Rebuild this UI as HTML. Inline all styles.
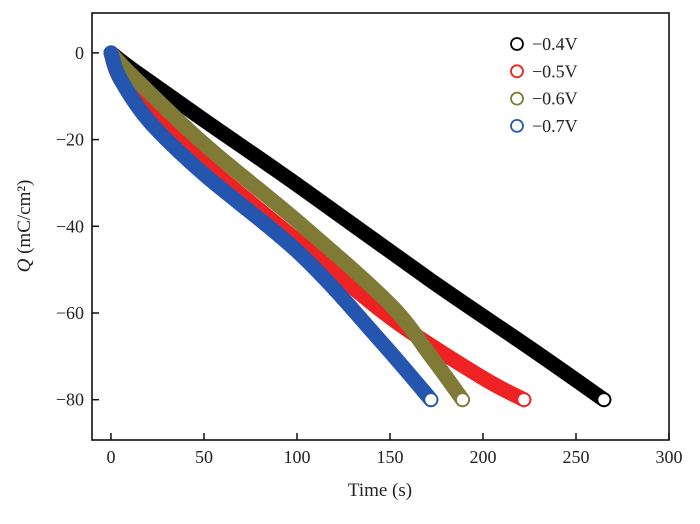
<!DOCTYPE html>
<html><head><meta charset="utf-8"><style>
html,body{margin:0;padding:0;background:#fff;}
svg text{font-family:"Liberation Serif",serif;fill:#222;}
</style></head><body>
<svg id="chart" width="700" height="519" viewBox="0 0 700 519"></svg>
<script>
const xTicks=[0,50,100,150,200,250,300];
const yTicks=[0,-20,-40,-60,-80];
const seriesNames=["−0.4V","−0.5V","−0.6V","−0.7V"];
const seriesColors=["#000000","#ee2222","#7f7a35","#2456b0"];
const t04=[0,12,50,102,172,225,265];
const q04=[0,-4,-15.5,-31,-52.5,-68,-80];
const t05=[0,5,21,50,102,150,198,222];
const q05=[0,-6,-14,-25.5,-44,-61,-74.5,-80];
const t06=[0,12,50,102,150,172,189];
const q06=[0,-5.5,-21,-39.5,-58,-70,-80];
const t07=[0,5,21,50,102,145,172];
const q07=[0,-6,-16,-28,-46.5,-66.5,-80];
const seriesT=[t04,t05,t06,t07];
const seriesQ=[q04,q05,q06,q07];

const NS="http://www.w3.org/2000/svg";
const svg=document.getElementById("chart");
const L=92,R=669,T=13,B=440;
const x0=-10.2,x1=300,y0=-89.3,y1=9.2;
const X=v=>L+(v-x0)/(x1-x0)*(R-L);
const Y=v=>B-(v-y0)/(y1-y0)*(B-T);
function mk(tag,attrs){const e=document.createElementNS(NS,tag);for(const k in attrs)e.setAttribute(k,attrs[k]);svg.appendChild(e);return e;}
function smooth(p){
  let d="M"+p[0][0].toFixed(1)+","+p[0][1].toFixed(1);
  for(let i=0;i<p.length-1;i++){
    const a=p[Math.max(i-1,0)],b=p[i],c=p[i+1],e=p[Math.min(i+2,p.length-1)];
    const c1=[b[0]+(c[0]-a[0])/6,b[1]+(c[1]-a[1])/6],c2=[c[0]-(e[0]-b[0])/6,c[1]-(e[1]-b[1])/6];
    d+=" C"+c1.map(v=>v.toFixed(1)).join(",")+" "+c2.map(v=>v.toFixed(1)).join(",")+" "+c.map(v=>v.toFixed(1)).join(",");
  }
  return d;
}
for(let s=0;s<4;s++){
  const pts=seriesT[s].map((t,i)=>[X(t),Y(seriesQ[s][i])]);
  const pl=mk("path",{d:smooth(pts),fill:"none",stroke:seriesColors[s],"stroke-width":15,"stroke-linecap":"round","stroke-linejoin":"round"});
  
  
}
for(let s=0;s<4;s++){
  const n=seriesT[s].length-1;
  const c=mk("circle",{cx:X(seriesT[s][n]),cy:Y(seriesQ[s][n]),r:6.5,fill:"#fff",stroke:seriesColors[s],"stroke-width":1.8});
  
  
}
const fr=mk("rect",{x:L,y:T,width:R-L,height:B-T,fill:"none",stroke:"#111","stroke-width":1.6});


xTicks.forEach(v=>{
  const l=mk("line",{x1:X(v),x2:X(v),y1:B,y2:B-7,stroke:"#111","stroke-width":1.5});
  
  
  const t=mk("text",{x:X(v),y:B+23,"text-anchor":"middle","font-size":18});
  t.textContent=v;
  
  
});
yTicks.forEach(v=>{
  const l=mk("line",{x1:L,x2:L+7,y1:Y(v),y2:Y(v),stroke:"#111","stroke-width":1.5});
  
  
  const t=mk("text",{x:L-8,y:Y(v)+6,"text-anchor":"end","font-size":18});
  t.textContent=v<0?"−"+(-v):v;
  
  
});
seriesNames.forEach((n,i)=>{
  const y=44+i*27.3;
  const c=mk("circle",{cx:517,cy:y,r:6,fill:"#fff",stroke:seriesColors[i],"stroke-width":1.8});
  
  
  const t=mk("text",{x:532,y:y+6,"font-size":18});
  t.textContent=n;
  
  
});
const xt=mk("text",{x:380,y:496,"text-anchor":"middle","font-size":19});
xt.textContent="Time (s)";


const yt=mk("text",{x:0,y:0,"text-anchor":"middle","font-size":19,transform:"translate(30,226) rotate(-90)"});
yt.innerHTML='<tspan font-style="italic">Q</tspan> (mC/cm²)';


</script>
</body></html>
